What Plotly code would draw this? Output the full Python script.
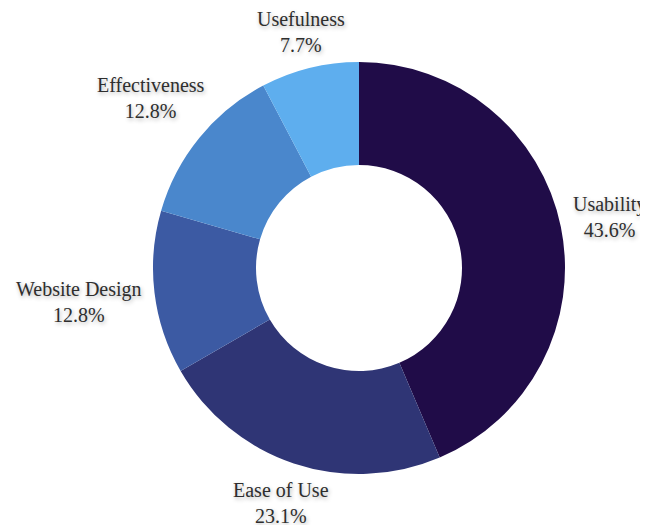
import math
import plotly.graph_objects as go

categories = ["Usability", "Ease of Use", "Website Design", "Effectiveness", "Usefulness"]
values = [17, 9, 5, 5, 3]
colors = ["#200c48", "#2f3575", "#3c5aa3", "#4a87cc", "#5eaeee"]

W, H = 648, 525
# donut centre/radius in plot pixels (page body margin of 8px compensated)
cx, cy, r = 359 - 8, 268 - 8, 206
FS = 20
GAP = 11
HALF_H = 16

# approximate Times / Liberation Serif advance widths (em)
CW = {"U": .722, "s": .389, "a": .444, "b": .5, "i": .278, "l": .278, "t": .278,
      "y": .5, "E": .611, "e": .444, " ": .25, "o": .5, "f": .333, "W": .944,
      "D": .722, "g": .5, "n": .5, "c": .444, "v": .5, "u": .5, ".": .25, "%": .833}


def text_w(s):
    return FS * sum(CW.get(ch, .5) for ch in s)


fig = go.Figure(go.Pie(
    labels=categories,
    values=values,
    hole=0.5,
    sort=False,
    direction="clockwise",
    rotation=0,
    marker=dict(colors=colors, line=dict(width=0)),
    textinfo="none",
    hoverinfo="label+percent",
    domain=dict(x=[(cx - r) / W, (cx + r) / W], y=[(H - cy - r) / H, (H - cy + r) / H]),
    showlegend=False,
))

# outside labels, placed along each slice's mid-angle
total = sum(values)
cum = 0.0
for lab, v in zip(categories, values):
    pct = f"{100 * v / total:.1f}%"
    theta = 2 * math.pi * (cum + v / 2) / total
    cum += v
    ux, uy = math.sin(theta), -math.cos(theta)
    w = max(text_w(lab), text_w(pct))
    R = r + GAP + abs(ux) * w / 2 + abs(uy) * HALF_H
    px, py = cx + R * ux, cy + R * uy
    fig.add_annotation(
        x=px / W, y=1 - py / H, xref="paper", yref="paper",
        text=f"{lab}<br>{pct}", showarrow=False,
        xanchor="center", yanchor="middle",
        font=dict(family="Liberation Serif", size=FS, color="#2e2e2e",
                  shadow="1px 2px 4px rgba(0,0,0,0.3)"),
    )

fig.update_layout(
    width=W, height=H,
    margin=dict(l=0, r=0, t=0, b=0),
    font=dict(family="Liberation Serif", size=FS, color="#2e2e2e"),
    paper_bgcolor="white",
    plot_bgcolor="white",
)
fig.write_html("out.html")
